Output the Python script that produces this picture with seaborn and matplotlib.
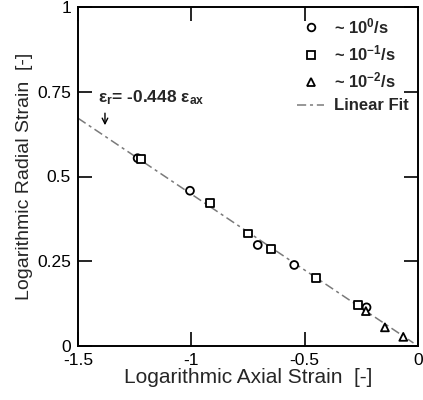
import numpy as np
import pandas as pd
import matplotlib
matplotlib.use("Agg")
import matplotlib.pyplot as plt
import seaborn as sns
from matplotlib.lines import Line2D

# Data
x_fast = [-1.237, -1.006, -0.707, -0.546, -0.227]
y_fast = [0.554, 0.458, 0.298, 0.239, 0.114]
x_mid = [-1.222, -0.918, -0.751, -0.649, -0.450, -0.264]
y_mid = [0.551, 0.423, 0.332, 0.285, 0.201, 0.121]
x_slow = [-0.230, -0.146, -0.065]
y_slow = [0.103, 0.055, 0.027]
series_labels = [r"~ 10$^{0}$/s", r"~ 10$^{-1}$/s", r"~ 10$^{-2}$/s"]
fit_slope = -0.448
fit_x = [-1.5, -0.02]
x_ticks = [-1.5, -1, -0.5, 0]
x_ticklabels = ["-1.5", "-1", "-0.5", "0"]
y_ticks = [0, 0.25, 0.5, 0.75, 1]
y_ticklabels = ["0", "0.25", "0.5", "0.75", "1"]

sns.set_style("ticks")
plt.rcParams["font.family"] = ["Liberation Sans", "DejaVu Sans"]
plt.rcParams["mathtext.fontset"] = "custom"
plt.rcParams["mathtext.rm"] = "Liberation Sans"
plt.rcParams["mathtext.it"] = "Liberation Sans"
plt.rcParams["mathtext.bf"] = "Liberation Sans:bold"
plt.rcParams["mathtext.default"] = "regular"

df = pd.DataFrame({
    "x": x_fast + x_mid + x_slow,
    "y": y_fast + y_mid + y_slow,
    "rate": [series_labels[0]] * len(x_fast) + [series_labels[1]] * len(x_mid) + [series_labels[2]] * len(x_slow),
})

fig = plt.figure(figsize=(4.23, 4.0), dpi=100)
ax = fig.add_axes([78 / 423, 1 - 346 / 400, 340 / 423, 339 / 400])

fit_style = (0, (6, 2.5, 2, 2.5))
fit_df = pd.DataFrame({"x": fit_x, "y": [fit_slope * v for v in fit_x]})
sns.lineplot(data=fit_df, x="x", y="y", ax=ax, color="#7a7a7a", lw=1.1,
             linestyle=fit_style, legend=False, zorder=1)

sns.scatterplot(data=df, x="x", y="y", style="rate", ax=ax,
                markers={series_labels[0]: "o", series_labels[1]: "s", series_labels[2]: "^"},
                s=32, facecolor="white", edgecolor="black", linewidth=1.3,
                color="white", legend=False, zorder=3)

handles = [
    Line2D([], [], marker="o", ls="none", mfc="white", mec="black", mew=1.3, ms=5.5, label=series_labels[0]),
    Line2D([], [], marker="s", ls="none", mfc="white", mec="black", mew=1.3, ms=5.5, label=series_labels[1]),
    Line2D([], [], marker="^", ls="none", mfc="white", mec="black", mew=1.3, ms=5.5, label=series_labels[2]),
    Line2D([], [], color="#7a7a7a", lw=1.1, linestyle=fit_style, label="Linear Fit"),
]
ax.legend(handles=handles, loc="upper right", frameon=False,
          prop={"weight": "bold", "size": 12}, handlelength=1.6,
          labelspacing=0.45, borderaxespad=0.15, handletextpad=0.6)

ax.set_xlim(-1.5, 0)
ax.set_ylim(0, 1)
ax.set_xticks(x_ticks)
ax.set_xticklabels(x_ticklabels)
ax.set_yticks(y_ticks)
ax.set_yticklabels(y_ticklabels)
ax.tick_params(direction="in", length=10, width=1.2, top=True, right=True,
               labelsize=12.5, pad=5, colors="black")
for sp in ax.spines.values():
    sp.set_visible(True)
    sp.set_linewidth(1.4)
    sp.set_color("black")

ax.set_xlabel("Logarithmic Axial Strain  [-]", fontsize=15, labelpad=0)
ax.set_ylabel("Logarithmic Radial Strain  [-]", fontsize=14, labelpad=3)

ax.text(-1.41, 0.705, r"ε$_{r}$= -0.448 ε$_{ax}$", fontsize=12.5, fontweight="bold",
        ha="left", va="bottom")
ax.annotate("", xy=(-1.381, 0.643), xytext=(-1.381, 0.695),
            arrowprops=dict(arrowstyle="->", color="black", lw=1.0))

fig.savefig("out.png", dpi=100)
